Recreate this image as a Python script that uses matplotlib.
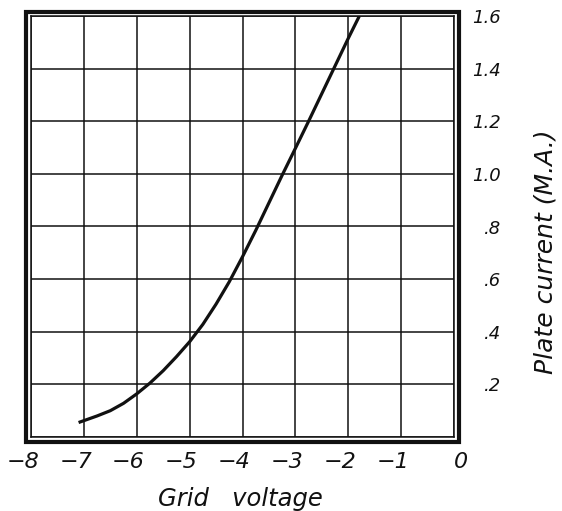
import matplotlib
matplotlib.use("Agg")
import matplotlib.pyplot as plt
from matplotlib.patches import Rectangle
from matplotlib.transforms import ScaledTranslation

# Data (grid voltage vs plate current)
grid_voltage = [-7.1, -6.75, -6.5, -6.25, -6.0, -5.75, -5.5, -5.25, -5.0, -4.75,
                -4.5, -4.25, -4.0, -3.75, -3.5, -3.25, -3.0, -2.75, -2.5, -2.25,
                -2.0, -1.79]
plate_current = [0.055, 0.080, 0.100, 0.128, 0.164, 0.205, 0.252, 0.305, 0.362, 0.428,
                 0.505, 0.59, 0.685, 0.785, 0.89, 0.995, 1.097, 1.2, 1.305, 1.41,
                 1.515, 1.6]

x_ticks = [-8, -7, -6, -5, -4, -3, -2, -1, 0]
x_tick_labels = ["\u22128", "\u22127", "\u22126", "\u22125", "\u22124", "\u22123",
                 "\u22122", "\u22121", "0"]
y_ticks = [0, 0.2, 0.4, 0.6, 0.8, 1.0, 1.2, 1.4, 1.6]
y_tick_labels = ["", ".2", ".4", ".6", ".8", "1.0", "1.2", "1.4", "1.6"]

W, H = 562, 511
fig = plt.figure(figsize=(W / 100, H / 100), dpi=100)
fig.patch.set_facecolor("white")

L, R, T, B = 31, 454, 16, 437
ax = fig.add_axes([L / W, (H - B) / H, (R - L) / W, (B - T) / H])
ax.set_xlim(-8, 0)
ax.set_ylim(0, 1.6)

ink = "#111111"
ax.plot(grid_voltage, plate_current, color=ink, lw=2.3, solid_capstyle="butt",
        solid_joinstyle="round", zorder=3)

ax.set_xticks(x_ticks)
ax.set_xticklabels(x_tick_labels)
ax.set_yticks(y_ticks)
ax.set_yticklabels(y_tick_labels)
ax.grid(True, color=ink, lw=1.1)
ax.set_axisbelow(True)
for s in ax.spines.values():
    s.set_color(ink)
    s.set_linewidth(1.1)

ax.tick_params(axis="x", length=0, pad=11, labelsize=16, labelcolor=ink)
ax.tick_params(axis="y", length=0, left=False, labelleft=False, right=True,
               labelright=True, pad=34, labelsize=13, labelcolor=ink)
for lab in ax.get_xticklabels():
    lab.set_fontstyle("italic")
    dx = 5 / 72 if lab.get_text() == "0" else -6 / 72
    lab.set_transform(lab.get_transform() + ScaledTranslation(dx, 0, fig.dpi_scale_trans))
for lab in ax.get_yticklabels():
    lab.set_fontstyle("italic")
    lab.set_horizontalalignment("right")

# Outer thick frame
ox0, ox1, oy0, oy1 = 25.5, 458.5, 12.5, 441.5
fig.patches.append(Rectangle((ox0 / W, (H - oy1) / H), (ox1 - ox0) / W, (oy1 - oy0) / H,
                             transform=fig.transFigure, fill=False, lw=3.0,
                             edgecolor=ink, zorder=5))

fig.text(240 / W, (H - 506) / H, "Grid   voltage", ha="center", va="baseline",
         fontsize=17.5, style="italic", color=ink)
fig.text(545 / W, (H - 252) / H, "Plate current (M.A.)", ha="center", va="center",
         rotation=90, fontsize=18, style="italic", color=ink)

fig.savefig("out.png", dpi=100, facecolor="white")
